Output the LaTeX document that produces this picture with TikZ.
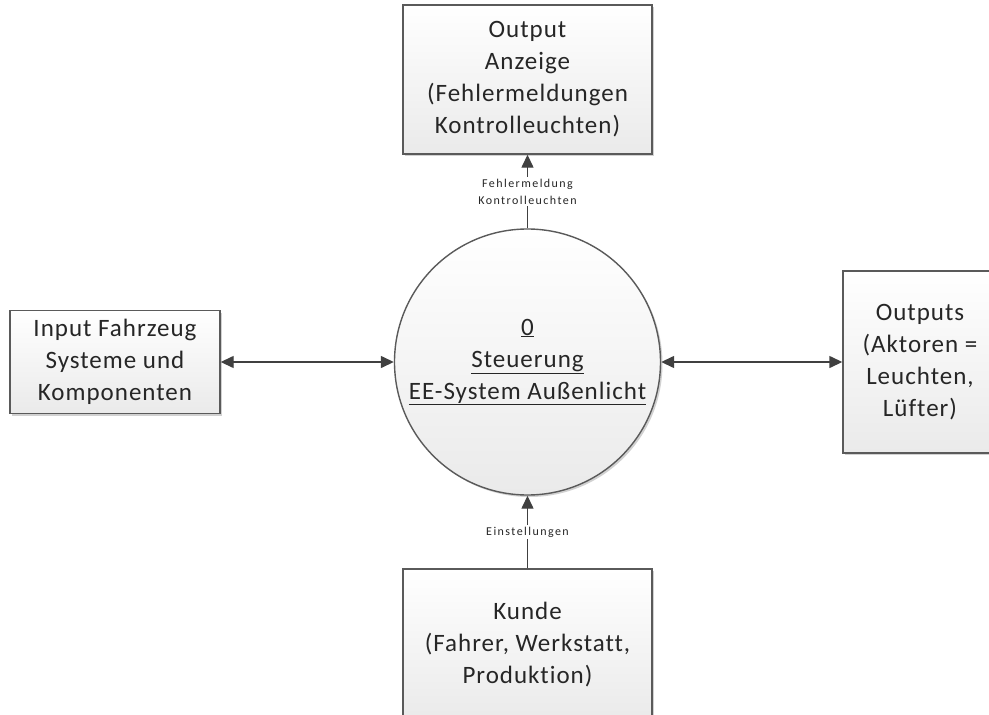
\documentclass[tikz,border=0pt]{standalone}
\usepackage{fontspec}
\setmainfont{Carlito}[Ligatures=NoCommon, LetterSpace=4]
\usetikzlibrary{arrows.meta,shadows}
\definecolor{bordergray}{HTML}{5A5A5A}
\definecolor{linegray}{HTML}{404040}
\definecolor{textgray}{HTML}{262626}
\definecolor{boxbottom}{HTML}{EAEAEA}
\newfontfamily\smallfam[LetterSpace=12, Ligatures=NoCommon]{Carlito}
\tikzset{
  box/.style={draw=bordergray, line width=1.4pt, top color=white, bottom color=boxbottom,
    align=center, text=textgray, inner sep=0pt, font=\fontsize{25}{32}\selectfont,
    drop shadow={shadow xshift=2pt, shadow yshift=-2pt, fill=gray!45, opacity=0.8}},
  proc/.style={box, circle, minimum size=266pt},
  conn/.style={draw=linegray, line width=1.4pt},
  tip/.style={-{Triangle[length=13pt,width=12pt]}},
  dtip/.style={{Triangle[length=13pt,width=12pt]}-{Triangle[length=13pt,width=12pt]}},
  lbl/.style={fill=white, inner sep=2pt, align=center, text=textgray,
    font=\smallfam\fontsize{12}{17}\selectfont}
}
\begin{document}
\begin{tikzpicture}[x=1pt,y=-1pt]
\useasboundingbox (0,0) rectangle (989,715);
\clip (0,0) rectangle (989,715);
\fill[white] (0,0) rectangle (989,715);
\node[box, minimum width=249pt, minimum height=149pt] (top) at (527.5,79.5)
  {Output\\Anzeige\\(Fehlermeldungen\\Kontrolleuchten)};
\node[box, minimum width=210pt, minimum height=103pt] (left) at (115,362)
  {Input Fahrzeug\\Systeme und\\Komponenten};
\node[proc] (proc) at (527.5,362)
  {\underline{0}\\\underline{Steuerung}\\\underline{EE-System Außenlicht}};
\node[box, minimum width=154pt, minimum height=182pt] (right) at (920,362)
  {Outputs\\(Aktoren =\\Leuchten,\\Lüfter)};
\node[box, minimum width=249pt, minimum height=152pt] (bottom) at (527.5,645)
  {Kunde\\(Fahrer, Werkstatt,\\Produktion)};
\draw[conn, tip] (proc.north) -- (top.south)
  node[lbl, midway] {Fehlermeldung\\Kontrolleuchten};
\draw[conn, tip] (bottom.north) -- (proc.south)
  node[lbl, midway] {Einstellungen};
\draw[conn, dtip] (left.east) -- (proc.west);
\draw[conn, dtip] (proc.east) -- (right.west |- proc.east);
\end{tikzpicture}
\end{document}
